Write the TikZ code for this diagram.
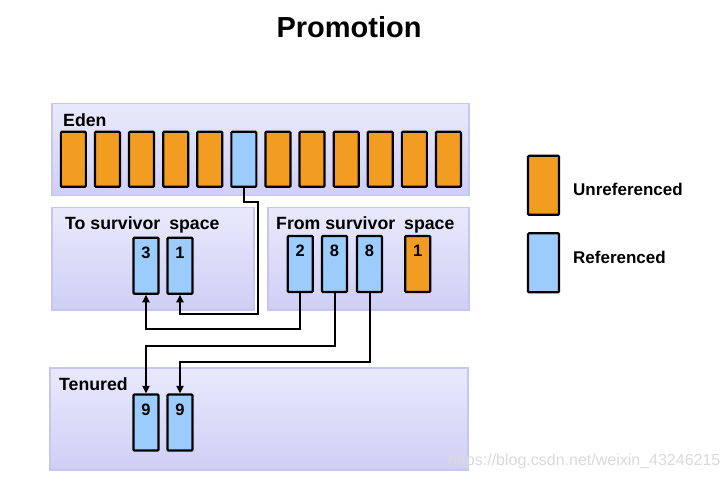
\documentclass[tikz,border=0pt]{standalone}
\usepackage{fontspec}
\setmainfont{Liberation Sans}
\usetikzlibrary{arrows.meta,calc}
\definecolor{orangec}{HTML}{F39C22}
\definecolor{bluec}{HTML}{9CCCFC}
\definecolor{paneltop}{HTML}{E9E9FC}
\definecolor{panelbot}{HTML}{CFCFF6}
\definecolor{panelline}{HTML}{C6C6F0}
\newcommand{\lblfont}{\bfseries\fontsize{17.7}{19}\selectfont}
\newcommand{\legfont}{\bfseries\fontsize{17}{19}\selectfont}
\newcommand{\numfont}{\bfseries\fontsize{16.5}{18}\selectfont}
\begin{document}
\begin{tikzpicture}[x=1pt,y=-1pt,
  panel/.style={draw=panelline,line width=1.5pt,top color=paneltop,bottom color=panelbot,anchor=north west,inner sep=0pt},
  cell/.style={draw=black,line width=2.2pt,rounded corners=1pt,minimum width=25pt,minimum height=56pt,inner sep=0pt},
  lbl/.style={font=\lblfont,anchor=west,inner sep=0pt},
  leg/.style={font=\legfont,anchor=west,inner sep=0pt},
  num/.style={label={[font=\numfont,anchor=center,yshift=-16pt,inner sep=0pt]north:#1}},
  conn/.style={line width=2pt,-{Triangle[length=7.5pt,width=7pt]}},
  ]
\useasboundingbox (0,0) rectangle (728,481);

% title
\node[font=\bfseries\fontsize{29}{32}\selectfont,inner sep=0pt] (title) at (349,27) {Promotion};

% panels
\node[panel,minimum width=417pt,minimum height=92pt] (eden) at (51,103) {};
\node[panel,minimum width=202pt,minimum height=102pt] (tosp) at (51,207) {};
\node[panel,minimum width=201pt,minimum height=102pt] (fromsp) at (267,207) {};
\node[panel,minimum width=418pt,minimum height=102pt] (ten) at (49,367) {};

\node[lbl] (edenl) at (63,120) {Eden};
\node[lbl] (tospl) at (65,225) {To survivor\hspace{9pt}space};
\node[lbl] (fromspl) at (276,225) {From survivor\hspace{9pt}space};
\node[lbl] (tenl) at (59,384) {Tenured};

% eden cells
\foreach \i in {0,...,11}{
  \ifnum\i=5 \def\cc{bluec}\else\def\cc{orangec}\fi
  \node[cell,fill=\cc,minimum height=55pt] (e\i) at ({73.35+34.1*\i},159.3) {};
}

% to survivor
\node[cell,fill=bluec,num=3] (t3) at (146,265.7) {};
\node[cell,fill=bluec,num=1] (t1) at (180,265.7) {};

% from survivor
\node[cell,fill=bluec,num=2] (f2) at (300.3,264) {};
\node[cell,fill=bluec,num=8] (f8a) at (334.5,264) {};
\node[cell,fill=bluec,num=8] (f8b) at (369.5,264) {};
\node[cell,fill=orangec,num=1] (f1) at (417.7,264) {};

% tenured
\node[cell,fill=bluec,num=9] (n9a) at (146,422.5) {};
\node[cell,fill=bluec,num=9] (n9b) at (180,422.5) {};

% legend
\node[cell,fill=orangec,minimum width=31pt,minimum height=59pt] (legu) at (543.5,185.3) {};
\node[cell,fill=bluec,minimum width=31pt,minimum height=59pt] (legr) at (543.5,262.8) {};
\node[leg] (legul) at (573,189.3) {Unreferenced};
\node[leg] (legrl) at (573,257.3) {Referenced};

% connectors
\coordinate (a1) at (258.3,202);
\coordinate (a2) at (258.3,314);
\coordinate (yb) at (0,329);
\coordinate (yc) at (0,345.7);
\coordinate (yd) at (0,361.7);
\draw[conn] (e5.south) |- (a1) -- (a2) -| (t1.south);
\draw[conn] (f2.south) -- (f2.south |- yb) -| (t3.south);
\draw[conn] (f8a.south) -- (f8a.south |- yc) -| (n9a.north);
\draw[conn] (f8b.south) -- (f8b.south |- yd) -| (n9b.north);

% watermark
\node[font=\fontsize{16}{18}\selectfont,text=black!15,anchor=west,inner sep=0pt] (wm) at (448,461.7) {https://blog.csdn.net/weixin\_43246215};
\end{tikzpicture}
\end{document}
